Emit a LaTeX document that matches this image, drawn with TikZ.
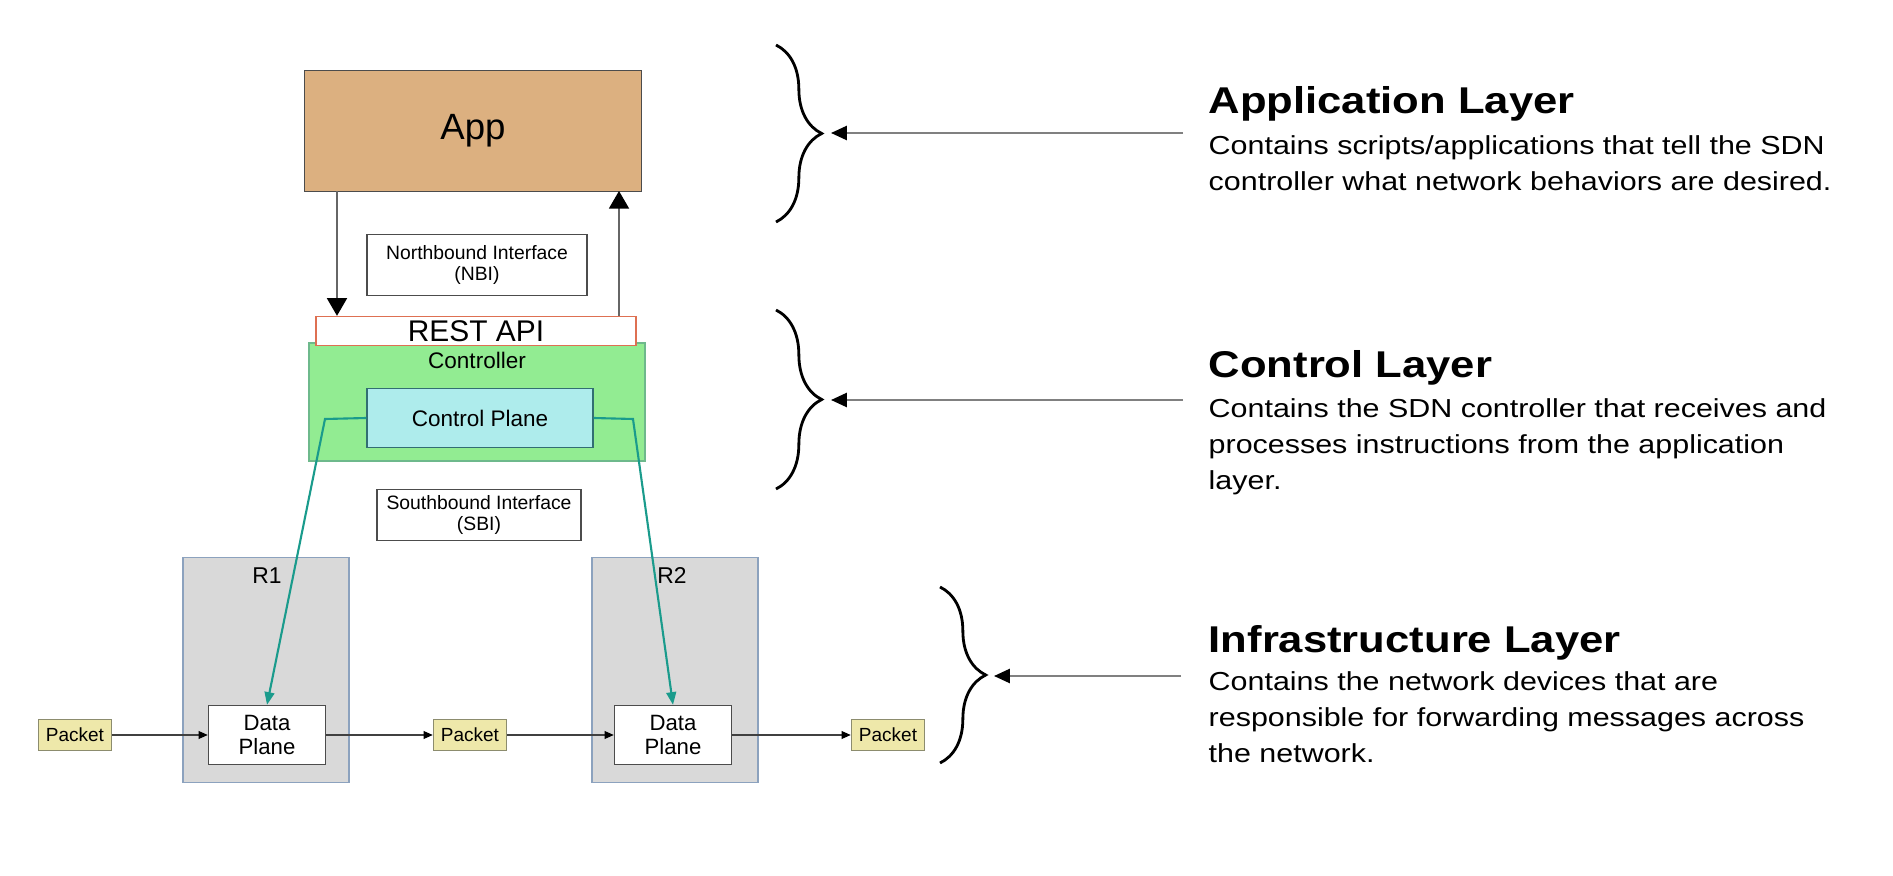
\documentclass[tikz,border=0pt]{standalone}
\usepackage{fontspec}
\setmainfont{Liberation Sans}
\newfontfamily\sidefont[FakeStretch=1.17]{Liberation Sans}
\usetikzlibrary{arrows.meta,decorations.pathreplacing}

\definecolor{appfill}{RGB}{220,176,128}
\definecolor{ctrlfill}{RGB}{146,236,146}
\definecolor{ctrlline}{RGB}{110,185,140}
\definecolor{cpfill}{RGB}{174,236,236}
\definecolor{cpline}{RGB}{50,110,115}
\definecolor{restline}{RGB}{222,112,82}
\definecolor{rfill}{RGB}{217,217,217}
\definecolor{rline}{RGB}{140,162,190}
\definecolor{pktfill}{RGB}{238,232,170}
\definecolor{pktline}{RGB}{140,140,110}
\definecolor{sbiteal}{RGB}{26,155,140}

\tikzset{
    box/.style={draw=black!70, line width=0.4pt, inner sep=0pt, align=center},
    ifbox/.style={box, fill=white, font=\fontsize{5.5}{6}\selectfont},
    router/.style={box, draw=rline, fill=rfill, minimum width=166*0.01cm, minimum height=225*0.01cm},
    dataplane/.style={box, fill=white, minimum width=117*0.01cm, minimum height=59*0.01cm, font=\fontsize{6.3}{6.9}\selectfont},
    packet/.style={box, draw=pktline, fill=pktfill, minimum width=73*0.01cm, minimum height=31*0.01cm, font=\fontsize{5.4}{6}\selectfont},
    nbiarrow/.style={draw=black!60, line width=0.4pt, -{Triangle[width=5.7pt,length=5pt,color=black]}},
    pktarrow/.style={draw=black!75, line width=0.4pt, -{Triangle[width=2.2pt,length=2.6pt,color=black]}},
    sbiline/.style={draw=sbiteal, line width=0.6pt, -{Triangle[width=2.8pt,length=3.6pt]}},
    layerbrace/.style={decorate, decoration={brace, amplitude=13pt}, line width=0.8pt},
    layerarrow/.style={draw=black!50, line width=0.6pt, -{Triangle[width=4pt,length=4.5pt,color=black]}},
    title/.style={anchor=base west, inner sep=0pt, font=\sidefont\fontsize{10.6}{12}\selectfont\bfseries},
    body/.style={anchor=north west, inner sep=0pt, align=left, font=\sidefont\fontsize{7.4}{10.2}\selectfont}
}

\begin{document}
\begin{tikzpicture}[x=0.01cm, y=-0.01cm]
    \useasboundingbox (0,0) rectangle (1893,876);

    % app and northbound side
    \node[box, fill=appfill, minimum width=337*0.01cm, minimum height=121*0.01cm,
          font=\fontsize{10.4}{12}\selectfont] (app) at (473,131) {App};
    \node[ifbox, minimum width=220*0.01cm, minimum height=61*0.01cm] (nbi) at (477,265) {Northbound Interface\\(NBI)};

    % controller
    \node[box, draw=ctrlline, fill=ctrlfill, minimum width=336*0.01cm, minimum height=118*0.01cm] (ctrl) at (477,402) {};
    \node[font=\fontsize{6.4}{7}\selectfont, inner sep=0pt] (ctrllabel) at (477,360) {Controller};
    \node[box, draw=restline, fill=white, minimum width=320*0.01cm, minimum height=29*0.01cm,
          font=\fontsize{8.5}{9}\selectfont] (rest) at (476,331) {REST API};
    \node[box, draw=cpline, fill=cpfill, minimum width=226*0.01cm, minimum height=59*0.01cm,
          font=\fontsize{6.4}{7}\selectfont] (cplane) at (480,418) {Control Plane};
    \node[ifbox, minimum width=204*0.01cm, minimum height=51*0.01cm] (sbi) at (479,515) {Southbound Interface\\(SBI)};

    % routers
    \node[router] (r1) at (266,670) {};
    \node[router] (r2) at (675,670) {};
    \node[font=\fontsize{6.5}{7}\selectfont, inner sep=0pt] (r1label) at (267,576) {R1};
    \node[font=\fontsize{6.5}{7}\selectfont, inner sep=0pt] (r2label) at (672,576) {R2};
    \node[dataplane] (dp1) at (267,735) {Data\\Plane};
    \node[dataplane] (dp2) at (673,735) {Data\\Plane};
    \node[packet] (pk1) at (75,735) {Packet};
    \node[packet] (pk2) at (470,735) {Packet};
    \node[packet] (pk3) at (888,735) {Packet};

    \coordinate (appdn) at (337,191);
    \coordinate (appup) at (619,191);
    \coordinate (cpl) at (325,419);
    \coordinate (cpr) at (633,419);

    \draw[nbiarrow] (appdn) -- (appdn |- rest.north);
    \draw[nbiarrow] (appup |- rest.north) -- (appup);
    \draw[sbiline] (cplane.west) -- (cpl) -- (dp1.north);
    \draw[sbiline] (cplane.east) -- (cpr) -- (dp2.north);
    \draw[pktarrow] (pk1) -- (dp1);
    \draw[pktarrow] (dp1) -- (pk2);
    \draw[pktarrow] (pk2) -- (dp2);
    \draw[pktarrow] (dp2) -- (pk3);

    % layers on the right
    \draw[layerbrace] (776,45) -- (776,222);
    \draw[layerbrace] (776,310) -- (776,489);
    \draw[layerbrace] (940,587) -- (940,763);

    \coordinate (apptip) at (831,133);
    \coordinate (append) at (1183,133);
    \coordinate (ctrltip) at (831,400);
    \coordinate (ctrlend) at (1183,400);
    \coordinate (infratip) at (994,676);
    \coordinate (infraend) at (1181,676);
    \draw[layerarrow] (append) -- (apptip);
    \draw[layerarrow] (ctrlend) -- (ctrltip);
    \draw[layerarrow] (infraend) -- (infratip);

    \node[title] (apptitle) at (1208,114) {Application Layer};
    \node[body] (apptext) at (1208,135) {Contains scripts/applications that tell the SDN\\controller what network behaviors are desired.};
    \node[title] (ctrltitle) at (1208,377) {Control Layer};
    \node[body] (ctrltext) at (1208,398) {Contains the SDN controller that receives and\\processes instructions from the application\\layer.};
    \node[title] (infratitle) at (1208,652) {Infrastructure Layer};
    \node[body] (infratext) at (1208,671) {Contains the network devices that are\\responsible for forwarding messages across\\the network.};
\end{tikzpicture}
\end{document}
